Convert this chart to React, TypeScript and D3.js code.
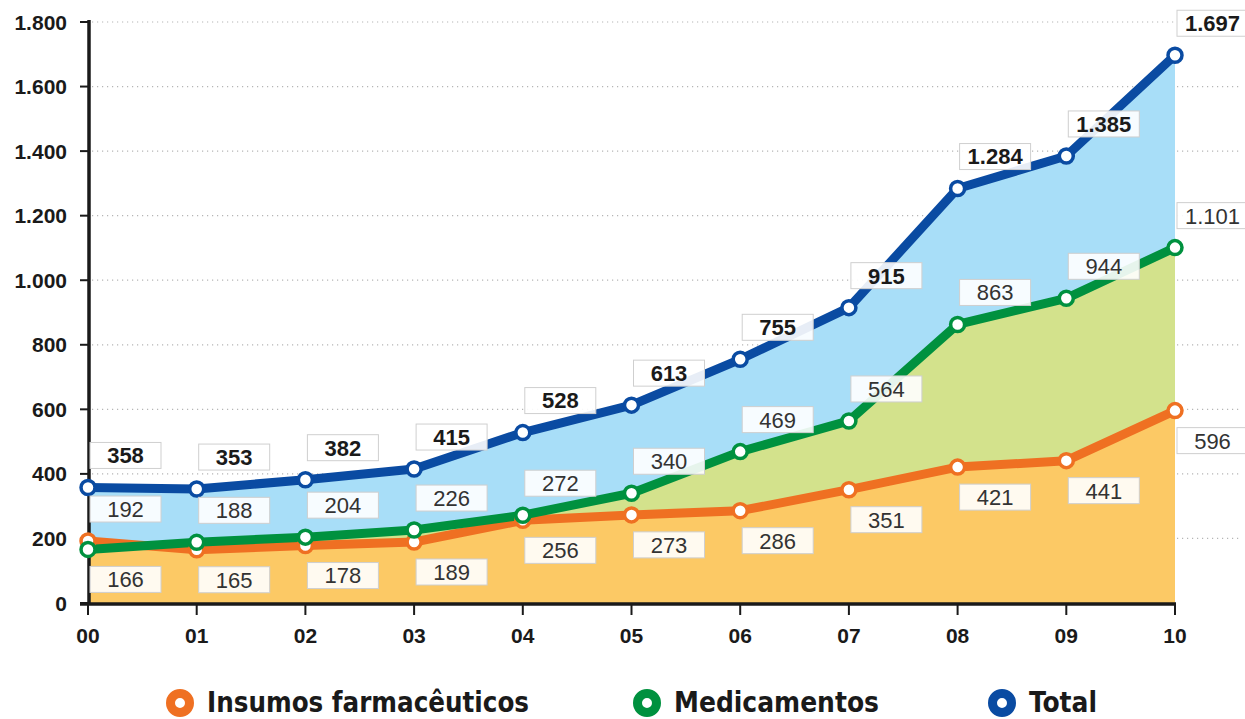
import React, { useRef, useEffect } from "react";
import * as d3 from "d3";

const years = ["00", "01", "02", "03", "04", "05", "06", "07", "08", "09", "10"];
const insumos = [192, 165, 178, 189, 256, 273, 286, 351, 421, 441, 596];
const medicamentos = [166, 188, 204, 226, 272, 340, 469, 564, 863, 944, 1101];
const total = [358, 353, 382, 415, 528, 613, 755, 915, 1284, 1385, 1697];
const yTicks = [0, 200, 400, 600, 800, 1000, 1200, 1400, 1600, 1800];
const legendNames = ["Insumos farmacêuticos", "Medicamentos", "Total"];

const ORANGE = "#ef7022";
const GREEN = "#00913f";
const BLUE = "#0a4ba2";

const App = () => {
    const svgRef = useRef(null);

    useEffect(() => {
        document.body.style.margin = "0";
        const width = 1245;
        const height = 719;
        const font = "'Liberation Sans', Arial, sans-serif";
        const narrow = "'DejaVu Sans', sans-serif";

        const fmt = d3.formatLocale({
            decimal: ",",
            thousands: ".",
            grouping: [3],
            currency: ["", ""]
        }).format(",d");

        const x = d3.scalePoint().domain(years).range([88, 1175]);
        const y = d3.scaleLinear().domain([0, 1800]).range([603, 22]);

        const svg = d3.select(svgRef.current);
        svg.selectAll("*").remove();
        svg.attr("width", width).attr("height", height);

        // dotted gridlines
        svg.append("g")
            .selectAll("line")
            .data(yTicks.filter(d => d > 0))
            .enter()
            .append("line")
            .attr("x1", 92)
            .attr("x2", 1240)
            .attr("y1", d => y(d))
            .attr("y2", d => y(d))
            .attr("stroke", "#b5b5b5")
            .attr("stroke-width", 1.2)
            .attr("stroke-dasharray", "1.2,3.8");

        // areas, painted back to front
        const areaOf = (vals) =>
            d3.area()
                .x((d, i) => x(years[i]))
                .y0(y(0))
                .y1(d => y(d))(vals);

        svg.append("path").attr("d", areaOf(total)).attr("fill", "#a8def8");
        svg.append("path").attr("d", areaOf(medicamentos)).attr("fill", "#d3e28c");
        svg.append("path").attr("d", areaOf(insumos)).attr("fill", "#fcc965");

        // axes
        const yAxis = svg.append("g");
        yAxis.append("line")
            .attr("x1", 89).attr("x2", 89)
            .attr("y1", y(1800) - 2).attr("y2", y(0) + 1)
            .attr("stroke", "#1a1a1a").attr("stroke-width", 3.5);
        yAxis.selectAll(".tick")
            .data(yTicks)
            .enter()
            .append("line")
            .attr("x1", 80).attr("x2", 89)
            .attr("y1", d => y(d)).attr("y2", d => y(d))
            .attr("stroke", "#1a1a1a").attr("stroke-width", 2);
        yAxis.selectAll("text")
            .data(yTicks)
            .enter()
            .append("text")
            .attr("x", 67)
            .attr("y", d => y(d))
            .attr("dy", "0.36em")
            .attr("text-anchor", "end")
            .style("font-family", font)
            .style("font-weight", "bold")
            .style("font-size", "21px")
            .style("fill", "#1a1a1a")
            .text(d => fmt(d));

        const xAxis = svg.append("g");
        xAxis.append("line")
            .attr("x1", 80).attr("x2", 1176)
            .attr("y1", y(0) + 1).attr("y2", y(0) + 1)
            .attr("stroke", "#1a1a1a").attr("stroke-width", 3.5);
        xAxis.selectAll(".tick")
            .data(years)
            .enter()
            .append("line")
            .attr("x1", d => x(d)).attr("x2", d => x(d))
            .attr("y1", y(0)).attr("y2", y(0) + 12)
            .attr("stroke", "#1a1a1a").attr("stroke-width", 2);
        xAxis.selectAll("text")
            .data(years)
            .enter()
            .append("text")
            .attr("x", d => x(d))
            .attr("y", 643)
            .attr("text-anchor", "middle")
            .style("font-family", font)
            .style("font-weight", "bold")
            .style("font-size", "21px")
            .style("fill", "#1a1a1a")
            .text(d => d);

        // lines + markers
        const line = d3.line()
            .x((d, i) => x(years[i]))
            .y(d => y(d));

        const series = [
            { vals: insumos, color: ORANGE },
            { vals: medicamentos, color: GREEN },
            { vals: total, color: BLUE }
        ];
        series.forEach(s => {
            svg.append("path")
                .attr("d", line(s.vals))
                .attr("fill", "none")
                .attr("stroke", s.color)
                .attr("stroke-width", 9)
                .attr("stroke-linejoin", "round");
        });
        series.forEach(s => {
            svg.append("g")
                .selectAll("circle")
                .data(s.vals)
                .enter()
                .append("circle")
                .attr("cx", (d, i) => x(years[i]))
                .attr("cy", d => y(d))
                .attr("r", 7)
                .attr("fill", "#fff")
                .attr("stroke", s.color)
                .attr("stroke-width", 3.5);
        });

        // value boxes (upper box gets the larger of the two parts, lower box the smaller)
        const boxW = 71;
        const boxH = 26;
        const labels = [];
        years.forEach((yr, i) => {
            const hi = Math.max(insumos[i], medicamentos[i]);
            const lo = Math.min(insumos[i], medicamentos[i]);
            labels.push({ x: x(yr), cy: y(total[i]) - 32, text: fmt(total[i]), bold: true });
            labels.push({ x: x(yr), cy: y(hi) - 32, text: fmt(hi), bold: false });
            labels.push({ x: x(yr), cy: y(lo) + 30, text: fmt(lo), bold: false });
        });

        const lab = svg.append("g")
            .selectAll("g")
            .data(labels)
            .enter()
            .append("g")
            .attr("transform", d => "translate(" + (d.x + 2) + "," + d.cy + ")");
        lab.append("rect")
            .attr("x", 0)
            .attr("y", -boxH / 2)
            .attr("width", boxW)
            .attr("height", boxH)
            .attr("fill", "#fff")
            .attr("fill-opacity", 0.9)
            .attr("stroke", "#cfcfcf")
            .attr("stroke-width", 1);
        lab.append("text")
            .attr("x", boxW / 2)
            .attr("y", 0)
            .attr("dy", "0.36em")
            .attr("text-anchor", "middle")
            .style("font-family", font)
            .style("font-weight", d => (d.bold ? "bold" : "normal"))
            .style("font-size", "22px")
            .style("fill", d => (d.bold ? "#1a1a1a" : "#333"))
            .text(d => d.text);

        // legend
        const legendX = [180, 647, 1002];
        const legendW = [322, 205, 68];
        const legendColors = [ORANGE, GREEN, BLUE];
        const legend = svg.append("g")
            .selectAll("g")
            .data(legendNames)
            .enter()
            .append("g")
            .attr("transform", (d, i) => "translate(" + legendX[i] + ",703)");
        legend.append("circle")
            .attr("r", 9.5)
            .attr("fill", "#fff")
            .attr("stroke", (d, i) => legendColors[i])
            .attr("stroke-width", 9);
        legend.append("text")
            .attr("x", 27)
            .attr("y", 9)
            .attr("textLength", (d, i) => legendW[i])
            .attr("lengthAdjust", "spacingAndGlyphs")
            .style("font-family", narrow)
            .style("font-stretch", "condensed")
            .style("font-weight", "bold")
            .style("font-size", "28px")
            .style("fill", "#1a1a1a")
            .text(d => d);
    }, []);

    return (
        <svg ref={svgRef} style={{ display: "block" }}></svg>
    );
};

export default App;
